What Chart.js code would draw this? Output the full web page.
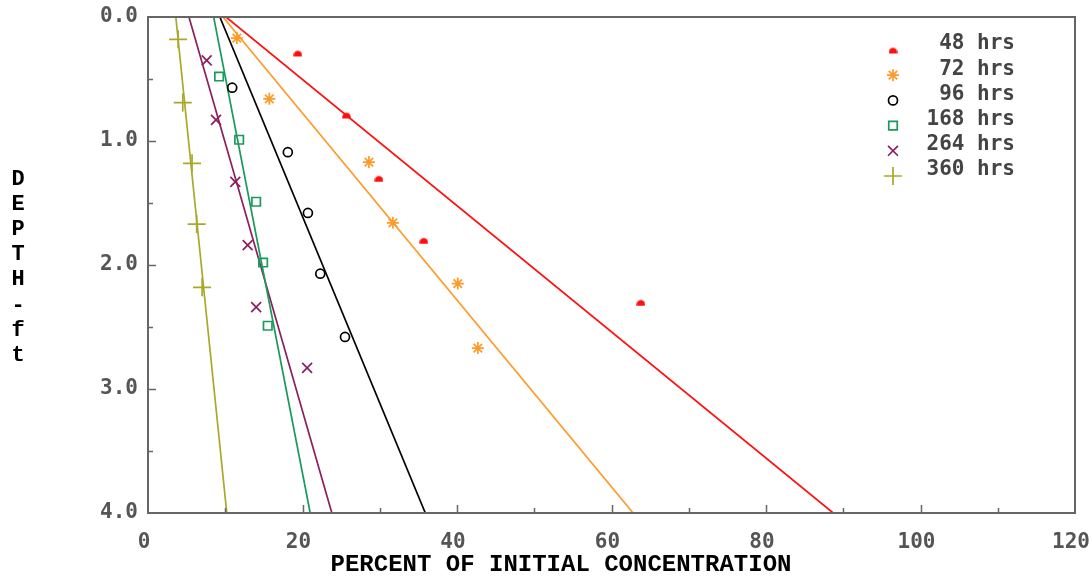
<!DOCTYPE html>
<html>
<head>
<meta charset="utf-8">
<script src="https://cdn.jsdelivr.net/npm/chart.js@4"></script>
<style>
  body { margin: 0; background: #fff; }
  canvas { display: block; }
</style>
</head>
<body>
<canvas id="depthChart" width="1092" height="582"></canvas>
<script>
// labels de série
const series = ['48 hrs', '72 hrs', '96 hrs', '168 hrs', '264 hrs', '360 hrs'];
const cores = ['#ff1010', '#ff9a28', '#000000', '#1b9a5c', '#8c1f5e', '#aaa82a'];

// pontos medidos (% da concentração inicial, profundidade em ft)
const pct48 = [19.4, 25.7, 29.9, 35.7, 63.8];
const dep48 = [0.29, 0.79, 1.30, 1.80, 2.30];
const pct72 = [11.5, 15.7, 28.6, 31.7, 40.1, 42.7];
const dep72 = [0.17, 0.66, 1.17, 1.66, 2.15, 2.67];
const pct96 = [10.9, 18.1, 20.7, 22.3, 25.5];
const dep96 = [0.57, 1.09, 1.58, 2.07, 2.58];
const pct168 = [9.2, 11.8, 14.0, 14.9, 15.5];
const dep168 = [0.48, 0.99, 1.49, 1.98, 2.49];
const pct264 = [7.6, 8.8, 11.3, 12.9, 14.0, 20.6];
const dep264 = [0.35, 0.83, 1.33, 1.84, 2.34, 2.83];
const pct360 = [3.9, 4.5, 5.7, 6.3, 7.0];
const dep360 = [0.18, 0.69, 1.18, 1.67, 2.18];

// retas ajustadas: % na superfície e a 4 ft
const fitDepth = [0.0, 4.0];
const fitTopo = [10.1, 9.7, 9.3, 8.5, 5.3, 3.6];
const fitFundo = [88.7, 62.8, 35.9, 21.0, 23.8, 10.2];

const xTicks = [0, 20, 40, 60, 80, 100, 120];
const yTicks = [0, 1, 2, 3, 4];

// marcador "meia-lua" do 48 hrs
const dome = document.createElement('canvas');
dome.width = 9; dome.height = 9;
(function () {
  const c = dome.getContext('2d');
  c.fillStyle = cores[0];
  c.beginPath();
  c.arc(4.5, 6.5, 4.2, Math.PI, 2 * Math.PI);
  c.lineTo(8.7, 8);
  c.lineTo(0.3, 8);
  c.closePath();
  c.fill();
})();

const pontos = [[pct48, dep48], [pct72, dep72], [pct96, dep96], [pct168, dep168], [pct264, dep264], [pct360, dep360]];
const estilos = [dome, 'star', 'circle', 'rect', 'crossRot', 'cross'];
const raios = [4, 6, 4.5, 6, 7, 9];

const datasets = [];
pontos.forEach((p, i) => {
  datasets.push({
    label: series[i],
    data: p[0].map((v, k) => ({ x: v, y: p[1][k] })),
    showLine: false,
    pointStyle: estilos[i],
    pointRadius: raios[i],
    pointBorderColor: cores[i],
    pointBackgroundColor: i === 0 ? cores[i] : 'rgba(255,255,255,0)',
    pointBorderWidth: 1.7,
    isPoint: true
  });
  datasets.push({
    label: series[i] + ' fit',
    data: [{ x: fitTopo[i], y: fitDepth[0] }, { x: fitFundo[i], y: fitDepth[1] }],
    showLine: true,
    borderColor: cores[i],
    borderWidth: 1.7,
    pointRadius: 0,
    fill: false
  });
});

// moldura, ticks internos, legenda e títulos
const extras = {
  id: 'extras',
  afterDraw(chart) {
    const { ctx, chartArea: a, scales: { x, y } } = chart;
    ctx.save();
    ctx.strokeStyle = '#666';
    ctx.lineWidth = 2;
    ctx.strokeRect(a.left, a.top, a.right - a.left, a.bottom - a.top);

    ctx.lineWidth = 1.5;
    ctx.beginPath();
    for (let v = 10; v < 120; v += 10) {
      const px = Math.round(x.getPixelForValue(v)) + 0.5;
      const len = v % 20 === 0 ? 8 : 5;
      ctx.moveTo(px, a.bottom);
      ctx.lineTo(px, a.bottom - len);
    }
    for (let v = 0.5; v < 4; v += 0.5) {
      const py = Math.round(y.getPixelForValue(v)) + 0.5;
      const len = v % 1 === 0 ? 8 : 5;
      ctx.moveTo(a.left, py);
      ctx.lineTo(a.left + len, py);
    }
    ctx.stroke();

    // legenda
    ctx.font = 'bold 21px "DejaVu Sans Mono"';
    ctx.textAlign = 'right';
    ctx.textBaseline = 'middle';
    chart.data.datasets.filter(d => d.isPoint).forEach((d, i) => {
      const ty = 44 + i * 25.2;
      ctx.fillStyle = '#444';
      ctx.fillText(d.label, 1015, ty);
      ctx.strokeStyle = d.pointBorderColor;
      ctx.fillStyle = d.pointBackgroundColor;
      ctx.lineWidth = 1.7;
      Chart.helpers.drawPoint(ctx, {
        pointStyle: d.pointStyle, radius: d.pointRadius, rotation: 0, borderWidth: 1.7
      }, 893, ty + 6);
    });

    // títulos dos eixos
    ctx.fillStyle = '#000';
    ctx.font = 'bold 24px "Liberation Mono"';
    ctx.textAlign = 'center';
    ctx.fillText('PERCENT OF INITIAL CONCENTRATION', 561, 565);
    ctx.font = 'bold 22px "Liberation Mono"';
    'DEPTH-ft'.split('').forEach((ch, k) => {
      ctx.fillText(ch, 18, 179 + k * 25.2);
    });
    ctx.restore();
  }
};

new Chart(document.getElementById('depthChart'), {
  type: 'scatter',
  data: { datasets },
  options: {
    responsive: false,
    animation: false,
    layout: { padding: { top: 17, right: 17, left: 0, bottom: 0 } },
    plugins: { legend: { display: false }, tooltip: { enabled: false } },
    scales: {
      x: {
        type: 'linear',
        min: 0,
        max: 120,
        afterBuildTicks: s => { s.ticks = xTicks.map(v => ({ value: v })); },
        afterFit: s => { s.height = 69; s.paddingLeft = 0; s.paddingRight = 0; },
        grid: { display: false, drawTicks: false },
        border: { display: false },
        ticks: {
          padding: 17,
          labelOffset: -4,
          color: '#555',
          font: { family: 'DejaVu Sans Mono', weight: 'bold', size: 21 },
          maxRotation: 0
        }
      },
      y: {
        type: 'linear',
        reverse: true,
        min: 0,
        max: 4,
        afterBuildTicks: s => { s.ticks = yTicks.map(v => ({ value: v })); },
        afterFit: s => { s.width = 148; s.paddingTop = 0; s.paddingBottom = 0; },
        grid: { display: false, drawTicks: false },
        border: { display: false },
        ticks: {
          padding: 10,
          color: '#555',
          font: { family: 'DejaVu Sans Mono', weight: 'bold', size: 21 },
          callback: v => v.toFixed(1)
        }
      }
    }
  },
  plugins: [extras]
});
</script>
</body>
</html>
